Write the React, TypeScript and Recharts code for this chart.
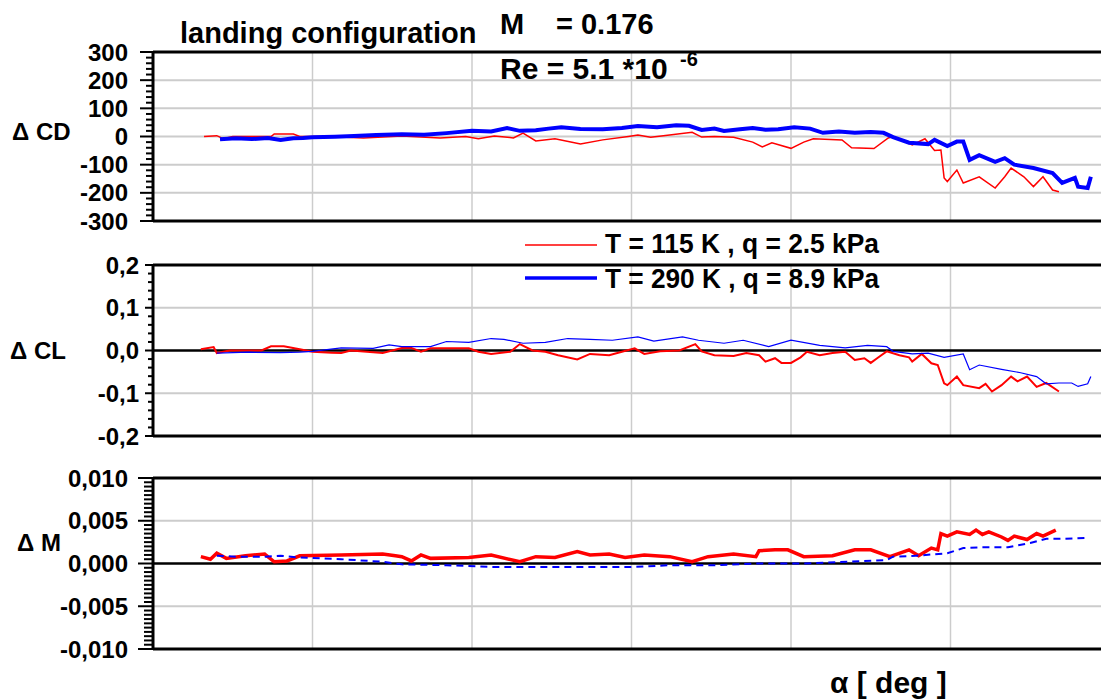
import React from "react";
import { LineChart, Line, XAxis, YAxis, ReferenceLine } from "recharts";

const FONT = '"Liberation Sans", Arial, Helvetica, sans-serif';

// angle of attack axis (no labels in the figure)
const alphaDomain: [number, number] = [-5, 25];
const alphaGrid = [0, 5, 10, 15, 20, 25];

// ΔCD panel
const cdTicks = [300, 200, 100, 0, -100, -200, -300];
const cdTickLabels = ["300", "200", "100", "0", "-100", "-200", "-300"];
const cdRedAlpha = [-3.4, -3.0, -2.8, -2.5, -1.3, -1.2, -0.6, -0.4, 0.5, 1.6, 2.8, 4.0, 4.8, 5.2, 5.7, 6.3, 6.6, 7.0, 7.6, 8.4, 9.1, 9.9, 10.2, 10.6, 11.0, 11.9, 12.2, 12.6, 13.2, 13.8, 14.1, 14.4, 15.0, 15.4, 15.7, 16.6, 16.9, 17.6, 18.05, 18.2, 18.8, 19.2, 19.5, 19.7, 19.8, 19.9, 20.2, 20.4, 20.9, 21.4, 21.7, 21.9, 22.3, 22.6, 22.9, 23.2, 23.4];
const cdRedVal = [0, 3, -8, 0, 0, 9, 9, 0, 0, -5, 2, -5, 0, -8, 2, -5, 12, -16, -8, -27, -12, 0, 5, -3, 3, 15, -2, 0, -3, -20, -37, -22, -42, -20, -8, -12, -40, -43, -5, 0, -30, -8, -50, -48, -147, -160, -119, -165, -143, -183, -143, -112, -143, -178, -143, -190, -196];
const cdBlueAlpha = [-2.9, -2.4, -1.9, -1.4, -1.0, -0.6, -0.3, 0.0, 0.7, 1.3, 2.0, 2.8, 3.5, 4.2, 5.0, 5.6, 6.1, 6.5, 7.0, 7.4, 7.8, 8.4, 9.1, 9.7, 10.2, 10.8, 11.4, 11.8, 12.2, 12.6, 12.9, 13.4, 13.8, 14.2, 14.6, 15.1, 15.6, 16.0, 16.5, 17.0, 17.5, 17.9, 18.2, 18.7, 19.3, 19.5, 19.9, 20.2, 20.4, 20.6, 20.9, 21.4, 21.7, 22.0, 22.6, 23.2, 23.5, 23.9, 24.0, 24.3, 24.4];
const cdBlueVal = [-10, -6, -9, -5, -12, -6, -5, -3, -1, 2, 5, 8, 6, 12, 20, 18, 30, 20, 22, 28, 33, 27, 26, 30, 37, 33, 40, 38, 23, 28, 20, 26, 30, 24, 26, 33, 28, 13, 18, 13, 16, 13, -2, -22, -27, -12, -34, -18, -18, -83, -66, -90, -77, -100, -112, -130, -165, -147, -178, -183, -143];

// ΔCL panel
const clTicks = [0.2, 0.1, 0, -0.1, -0.2];
const clTickLabels = ["0,2", "0,1", "0,0", "-0,1", "-0,2"];
const clRedAlpha = [-3.5, -3.1, -3.0, -2.6, -1.6, -1.3, -0.9, -0.4, 0.0, 0.6, 0.9, 1.2, 2.2, 2.8, 3.1, 3.4, 3.7, 4.9, 5.2, 5.6, 6.2, 6.5, 6.9, 7.3, 7.7, 8.3, 8.7, 9.3, 9.7, 10.1, 10.4, 10.9, 11.5, 12.0, 12.2, 12.6, 13.2, 13.6, 14.0, 14.2, 14.5, 14.7, 15.0, 15.3, 15.5, 15.9, 16.3, 16.7, 17.0, 17.3, 17.5, 17.7, 18.0, 18.4, 18.7, 18.8, 19.1, 19.4, 19.6, 19.8, 19.9, 20.2, 20.4, 20.9, 21.1, 21.3, 21.6, 21.9, 22.1, 22.4, 22.7, 23.0, 23.4];
const clRedVal = [0.003, 0.008, -0.006, 0.0, 0.0, 0.01, 0.01, 0.003, -0.003, -0.005, -0.006, 0.0, -0.006, 0.006, 0.006, -0.003, 0.005, 0.005, -0.003, -0.008, -0.003, 0.015, 0.0, -0.003, -0.011, -0.021, -0.008, -0.011, -0.003, 0.005, -0.008, -0.002, 0.0, 0.015, -0.002, -0.011, -0.013, -0.006, -0.011, -0.026, -0.018, -0.029, -0.029, -0.016, -0.003, -0.011, -0.006, -0.003, -0.022, -0.018, -0.029, -0.018, -0.002, -0.011, -0.016, -0.026, -0.008, -0.03, -0.034, -0.077, -0.081, -0.061, -0.081, -0.088, -0.078, -0.096, -0.081, -0.061, -0.072, -0.061, -0.085, -0.076, -0.096];
const clBlueAlpha = [-3.0, -2.0, -1.0, -0.4, 0.0, 0.9, 1.9, 2.4, 2.8, 3.7, 4.2, 4.9, 5.6, 6.0, 6.6, 7.3, 8.0, 8.7, 9.4, 10.2, 10.7, 11.6, 12.1, 12.9, 13.5, 14.3, 15.0, 15.9, 16.7, 17.4, 18.0, 18.2, 18.8, 19.3, 19.8, 20.4, 20.6, 20.9, 21.6, 22.2, 22.7, 23.0, 23.4, 23.8, 24.0, 24.3, 24.4];
const clBlueVal = [-0.006, -0.004, -0.005, -0.004, -0.002, 0.006, 0.005, 0.013, 0.009, 0.009, 0.021, 0.019, 0.028, 0.026, 0.017, 0.019, 0.028, 0.026, 0.024, 0.032, 0.022, 0.032, 0.024, 0.017, 0.024, 0.009, 0.024, 0.012, 0.006, 0.012, 0.009, -0.002, -0.008, -0.006, -0.016, -0.008, -0.045, -0.034, -0.044, -0.052, -0.061, -0.078, -0.076, -0.076, -0.084, -0.078, -0.061];

// ΔM panel
const cmTicks = [0.01, 0.005, 0, -0.005, -0.01];
const cmTickLabels = ["0,010", "0,005", "0,000", "-0,005", "-0,010"];
const cmRedAlpha = [-3.5, -3.2, -3.0, -2.7, -2.1, -1.5, -1.2, -0.8, -0.4, 0.9, 2.2, 2.6, 2.8, 3.1, 3.4, 3.7, 4.9, 5.6, 6.5, 7.0, 7.6, 8.3, 8.7, 9.3, 9.8, 10.4, 11.2, 11.9, 12.4, 13.2, 13.9, 14.0, 14.5, 14.9, 15.4, 16.3, 17.0, 17.5, 18.1, 18.7, 19.0, 19.4, 19.6, 19.7, 19.9, 20.2, 20.6, 20.8, 21.0, 21.2, 21.6, 21.8, 22.0, 22.4, 22.7, 22.9, 23.3];
const cmRedVal = [0.0008, 0.0005, 0.0012, 0.0006, 0.0009, 0.0011, 0.0002, 0.0003, 0.0009, 0.001, 0.0011, 0.0009, 0.0008, 0.0003, 0.001, 0.0006, 0.0007, 0.001, 0.0002, 0.0008, 0.0007, 0.0014, 0.001, 0.0011, 0.0007, 0.001, 0.0008, 0.0002, 0.0008, 0.0011, 0.0008, 0.0015, 0.0016, 0.0016, 0.0008, 0.0009, 0.0016, 0.0016, 0.0008, 0.0016, 0.0009, 0.0018, 0.0016, 0.0035, 0.0032, 0.0037, 0.0034, 0.0039, 0.0034, 0.0037, 0.0031, 0.0027, 0.0032, 0.0028, 0.0035, 0.0032, 0.0039];
const cmBlueAlpha = [-3.0, -2.4, -1.5, -1.0, -0.4, 0.9, 2.2, 2.8, 4.2, 5.6, 7.0, 8.4, 10.1, 11.2, 12.6, 14.0, 15.4, 16.8, 18.0, 18.2, 18.9, 19.9, 20.4, 21.0, 21.8, 22.5, 23.0, 23.6, 24.3];
const cmBlueVal = [0.0009, 0.0008, 0.0008, 0.0009, 0.0007, 0.0005, 0.0002, -0.0001, -0.0002, -0.0004, -0.0004, -0.0004, -0.0004, -0.0002, -0.0002, 0.0, 0.0, 0.0002, 0.0004, 0.0008, 0.0009, 0.0012, 0.0018, 0.0019, 0.0019, 0.0024, 0.0029, 0.0029, 0.003];

const RED = "#ff0000";
const BLUE = "#0000ff";
const GRID = "#cccccc";

const range = (a: number, b: number, step: number) => {
  const n = Math.round((b - a) / step);
  const out: number[] = [];
  for (let i = 0; i <= n; i++) out.push(Math.round((a + i * step) * 1e6) / 1e6);
  return out;
};

const toPts = (a: number[], v: number[]) => a.map((x, i) => ({ a: x, v: v[i] }));

type Series = { a: number[]; v: number[]; color: string; width: number; dash?: string };

type PanelProps = {
  top: number;
  plotH: number;
  ticks: number[];
  labels: string[];
  minorStep: number;
  zeroLine: boolean;
  xStep: number;
  majorLen: number;
  minorLen: number;
  labelRight: number;
  series: Series[];
};

const Panel = (p: PanelProps) => {
  const lo = p.ticks[p.ticks.length - 1];
  const hi = p.ticks[0];
  const allTicks = range(lo, hi, p.minorStep);
  const grid = p.ticks.filter((t) => t !== lo && t !== hi && !(p.zeroLine && t === 0));

  const renderYTick = (props: any) => {
    const { x, y, payload } = props;
    const idx = p.ticks.findIndex((m) => Math.abs(m - payload.value) < 1e-9);
    const len = idx >= 0 ? p.majorLen : p.minorLen;
    return (
      <g>
        <line x1={x - len} x2={x} y1={y} y2={y} stroke="#000" strokeWidth={2} />
        {idx >= 0 && (
          <text
            x={p.labelRight}
            y={y}
            dy="0.36em"
            textAnchor="end"
            fontSize={24}
            fontWeight={700}
            fontFamily={FONT}
            fill="#000"
          >
            {p.labels[idx]}
          </text>
        )}
      </g>
    );
  };

  return (
    <div style={{ position: "absolute", left: 0, top: p.top - 16 }}>
      <LineChart width={1114} height={16 + p.plotH + 10 + 14} margin={{ top: 16, right: 4, bottom: 14, left: 0 }}>
        <XAxis
          type="number"
          dataKey="a"
          domain={alphaDomain}
          ticks={range(alphaDomain[0], alphaDomain[1], p.xStep)}
          interval={0}
          tick={false}
          tickSize={5}
          height={10}
          axisLine={{ stroke: "#000", strokeWidth: 3 }}
          tickLine={{ stroke: "#000", strokeWidth: 2 }}
        />
        <YAxis
          type="number"
          domain={[lo, hi]}
          ticks={allTicks}
          interval={0}
          width={153}
          tickSize={0}
          tickMargin={0}
          tick={renderYTick}
          axisLine={{ stroke: "#000", strokeWidth: 3 }}
          tickLine={false}
        />
        {alphaGrid.map((g) => (
          <ReferenceLine key={"gx" + g} x={g} stroke={GRID} strokeWidth={1.5} />
        ))}
        {grid.map((g) => (
          <ReferenceLine key={"gy" + g} y={g} stroke={GRID} strokeWidth={2} />
        ))}
        {p.zeroLine && <ReferenceLine y={0} stroke="#000" strokeWidth={2.5} />}
        <ReferenceLine y={hi} stroke="#000" strokeWidth={3} />
        {p.series.map((s, i) => (
          <Line
            key={i}
            data={toPts(s.a, s.v)}
            dataKey="v"
            type="linear"
            stroke={s.color}
            strokeWidth={s.width}
            strokeDasharray={s.dash}
            dot={false}
            activeDot={false}
            isAnimationActive={false}
          />
        ))}
      </LineChart>
    </div>
  );
};

const txt = { fontFamily: FONT, fontWeight: 700, fill: "#000" } as const;

export default function App() {
  return (
    <div
      style={{
        position: "absolute",
        left: 0,
        top: 0,
        width: 1101,
        height: 700,
        overflow: "hidden",
        background: "#fff",
      }}
    >
      <Panel
        top={52}
        plotH={169}
        ticks={cdTicks}
        labels={cdTickLabels}
        minorStep={20}
        zeroLine={false}
        xStep={2.5}
        majorLen={13}
        minorLen={7}
        labelRight={128}
        series={[
          { a: cdRedAlpha, v: cdRedVal, color: RED, width: 1.5 },
          { a: cdBlueAlpha, v: cdBlueVal, color: BLUE, width: 4 },
        ]}
      />
      <Panel
        top={265}
        plotH={171}
        ticks={clTicks}
        labels={clTickLabels}
        minorStep={0.02}
        zeroLine={true}
        xStep={1}
        majorLen={8}
        minorLen={5}
        labelRight={139}
        series={[
          { a: clRedAlpha, v: clRedVal, color: RED, width: 2 },
          { a: clBlueAlpha, v: clBlueVal, color: BLUE, width: 1.2 },
        ]}
      />
      <Panel
        top={478}
        plotH={171}
        ticks={cmTicks}
        labels={cmTickLabels}
        minorStep={0.0005}
        zeroLine={true}
        xStep={1}
        majorLen={15}
        minorLen={9}
        labelRight={128}
        series={[
          { a: cmRedAlpha, v: cmRedVal, color: RED, width: 3.5 },
          { a: cmBlueAlpha, v: cmBlueVal, color: BLUE, width: 2, dash: "7 5" },
        ]}
      />
      <svg width={1101} height={700} style={{ position: "absolute", left: 0, top: 0, pointerEvents: "none" }}>
        <text x={180} y={43} fontSize={29} {...txt}>landing configuration</text>
        <text y={34} fontSize={29} {...txt}>
          <tspan x={500}>M</tspan>
          <tspan x={556}>= 0.176</tspan>
        </text>
        <text y={79} fontSize={30} {...txt}>
          <tspan x={500}>Re = 5.1 *10</tspan>
          <tspan x={680} y={66} fontSize={20}>-6</tspan>
        </text>

        <line x1={525} x2={597} y1={245} y2={245} stroke={RED} strokeWidth={1.5} />
        <text x={605} y={253} fontSize={28} textLength={274} lengthAdjust="spacingAndGlyphs" {...txt}>
          T = 115 K , q = 2.5 kPa
        </text>
        <line x1={525} x2={597} y1={278} y2={278} stroke={BLUE} strokeWidth={3.5} />
        <text x={605} y={288} fontSize={28} textLength={274} lengthAdjust="spacingAndGlyphs" {...txt}>
          T = 290 K , q = 8.9 kPa
        </text>

        <text x={12} y={131} dy="0.36em" fontSize={24} {...txt}>Δ CD</text>
        <text x={10} y={350} dy="0.36em" fontSize={24} {...txt}>Δ CL</text>
        <text x={17} y={542} dy="0.36em" fontSize={24} {...txt}>Δ M</text>
        <text x={830} y={693} fontSize={30} {...txt}>α [ deg ]</text>
      </svg>
    </div>
  );
}
